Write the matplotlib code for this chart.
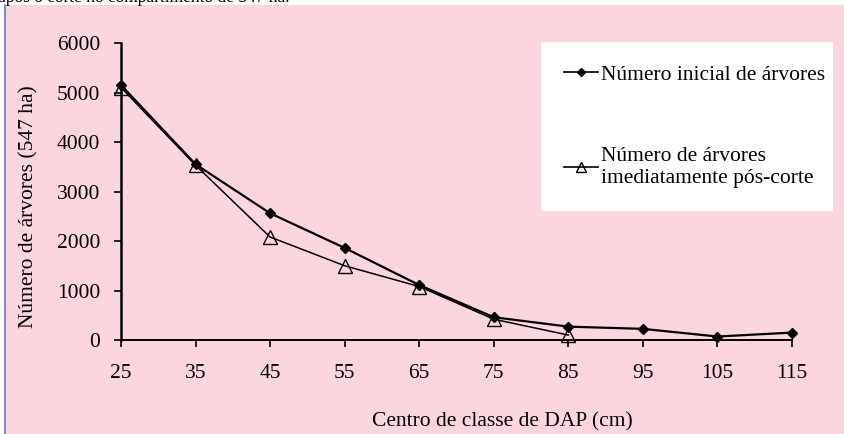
import matplotlib
matplotlib.use("Agg")
from matplotlib import pyplot as plt
from matplotlib.patches import Rectangle
from matplotlib.lines import Line2D

plt.rcParams['font.family'] = ['Liberation Serif', 'DejaVu Serif']
plt.rcParams['font.size'] = 15.5

# DAP class centres (cm) and tree counts for the 547 ha compartment
dap = [25, 35, 45, 55, 65, 75, 85, 95, 105, 115]
inicial = [5150, 3550, 2560, 1860, 1110, 460, 270, 225, 70, 150]
dap_pos = [25, 35, 45, 55, 65, 75, 85]
pos_corte = [5100, 3530, 2080, 1500, 1080, 420, 100]

lbl_inicial = 'Número inicial de árvores'
lbl_pos = 'Número de árvores\nimediatamente pós-corte'
xlabel = 'Centro de classe de DAP (cm)'
ylabel = 'Número de árvores (547 ha)'
caption = 'imediatamente após o corte no compartimento de 547 ha.'

W, H = 845, 434
fig = plt.figure(figsize=(W / 100, H / 100), dpi=100)
fig.patch.set_facecolor('white')

# pink chart area with thin blue border on the left
fig.add_artist(Rectangle((5 / W, 0), 1 - 5 / W, 1 - 5 / H, transform=fig.transFigure,
                         facecolor='#fcd6de', edgecolor='none', zorder=-5))
fig.add_artist(Line2D([5.5 / W, 5.5 / W], [0, 1 - 5 / H], transform=fig.transFigure,
                      color='#5b7fc0', lw=1.2, zorder=-4))
# caption line cut off at the top edge
fig.text(290 / W, 1 - 1.5 / H, caption, ha='right', va='baseline', fontsize=12.5, zorder=-3)

ax = fig.add_axes([121 / W, 94 / H, 671 / W, 297 / H])
ax.set_facecolor('none')

ax.plot(dap, inicial, color='black', lw=1.6, marker='D', ms=5, clip_on=False, zorder=4)
ax.plot(dap_pos, pos_corte, color='black', lw=1.1, marker='^', ms=10,
        markerfacecolor='none', markeredgewidth=1.0, clip_on=False, zorder=3)

ax.set_xlim(25, 115)
ax.set_ylim(0, 6000)
ax.set_xticks(dap)
ax.set_yticks(range(0, 6001, 1000))

for s in ('top', 'right'):
    ax.spines[s].set_visible(False)
ax.spines['left'].set_linewidth(1.8)
ax.spines['bottom'].set_linewidth(1.4)
ax.tick_params(axis='y', direction='out', length=5, width=1.2, pad=10)
ax.tick_params(axis='x', direction='out', length=5, width=1.2, pad=12)

ax.set_xlabel(xlabel)
ax.set_ylabel(ylabel)
ax.xaxis.set_label_coords((502 - 121) / 671, (340 - 412) / 297)
ax.yaxis.set_label_coords((38 - 121) / 671, (340 - 207) / 297)

handles = [
    Line2D([], [], color='black', lw=1.2, marker='D', ms=4),
    Line2D([], [], color='black', lw=1.2, marker='^', ms=7, markerfacecolor='none'),
]
leg = ax.legend(handles, [lbl_inicial, lbl_pos], loc='upper left',
                bbox_to_anchor=(541 / W, 1 - 42 / H, 292 / W, 0.0),
                bbox_transform=fig.transFigure, mode='expand',
                frameon=True, fancybox=False, facecolor='white', edgecolor='none',
                framealpha=1, borderpad=1.05, labelspacing=2.9, handlelength=1.6,
                handletextpad=0.15, borderaxespad=0)

fig.savefig('out.png', dpi=100)
